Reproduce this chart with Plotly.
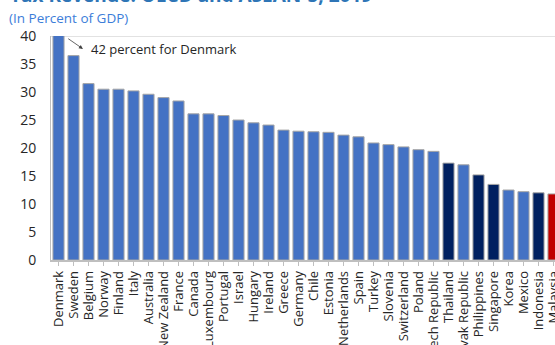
import plotly.graph_objects as go

countries = ["Denmark", "Sweden", "Belgium", "Norway", "Finland", "Italy", "Australia",
             "New Zealand", "France", "Canada", "Luxembourg", "Portugal", "Israel", "Hungary",
             "Ireland", "Greece", "Germany", "Chile", "Estonia", "Netherlands", "Spain", "Turkey",
             "Slovenia", "Switzerland", "Poland", "Czech Republic", "Thailand", "Slovak Republic",
             "Philippines", "Singapore", "Korea", "Mexico", "Indonesia", "Malaysia"]
values = [42.0, 36.5, 31.5, 30.5, 30.5, 30.2, 29.6, 29.0, 28.4, 26.1, 26.1, 25.8, 25.0, 24.5,
          24.1, 23.2, 23.0, 22.9, 22.8, 22.3, 22.0, 20.9, 20.6, 20.2, 19.7, 19.4, 17.3, 17.0,
          15.2, 13.5, 12.5, 12.2, 12.0, 11.8]
groups = ["OECD"] * 26 + ["ASEAN", "OECD", "ASEAN", "ASEAN", "OECD", "OECD", "ASEAN", "Malaysia"]
group_colors = {"OECD": "#4472C4", "ASEAN": "#002060", "Malaysia": "#C00000"}
y_ticks = [0, 5, 10, 15, 20, 25, 30, 35, 40]

title_text = "<b>Tax Revenue: OECD and ASEAN-5, 2019</b>"
subtitle_text = "(In Percent of GDP)"
note_text = "42 percent for Denmark"

FONT = "Open Sans"

fig = go.Figure()
fig.add_trace(go.Bar(
    x=list(range(len(countries))), y=values,
    marker=dict(color=[group_colors[g] for g in groups],
                line=dict(color="#A6A6A6", width=1)),
    width=0.74,
    showlegend=False,
))

fig.update_layout(
    width=555, height=345,
    margin=dict(l=51, r=0, t=36, b=85),
    plot_bgcolor="white", paper_bgcolor="white",
    font=dict(family=FONT, size=13, color="#262626"),
    xaxis=dict(
        range=[-0.5, 33.1], automargin=False,
        tickmode="array", tickvals=list(range(len(countries))), ticktext=countries,
        tickangle=-90, tickfont=dict(size=13, color="#262626"),
        ticklabeloverflow="allow",
        showline=True, linecolor="#BFBFBF", linewidth=1.5,
        ticks="outside", ticklen=4, tickcolor="#BFBFBF",
        showgrid=False, zeroline=False,
    ),
    yaxis=dict(
        range=[0, 40], tickvals=y_ticks, automargin=False,
        tickfont=dict(size=14, color="#262626"),
        showline=True, linecolor="#BFBFBF", linewidth=1,
        showgrid=False, zeroline=False,
        ticklabelstandoff=11,
    ),
    shapes=[dict(type="line", xref="paper", yref="y", x0=0, x1=1, y0=40, y1=40,
                 line=dict(color="#D9D9D9", width=1.5), layer="below")],
    annotations=[
        dict(text=title_text, xref="paper", yref="paper", x=-0.085, y=1.116,
             xanchor="left", yanchor="bottom", showarrow=False,
             font=dict(size=19, color="#2E75B6", family=FONT)),
        dict(text=subtitle_text, xref="paper", yref="paper", x=-0.087, y=1.080,
             xanchor="left", yanchor="middle", showarrow=False,
             font=dict(size=13.5, color="#3C7DD9", family=FONT)),
        dict(text=note_text, x=2.05, y=37.7, xref="x", yref="y",
             xanchor="left", yanchor="middle", showarrow=False,
             font=dict(size=13, color="#262626", family=FONT)),
        dict(text="", x=1.63, y=37.7, xref="x", yref="y",
             ax=0.55, ay=39.7, axref="x", ayref="y",
             showarrow=True, arrowhead=2, arrowsize=1, arrowwidth=0.8,
             arrowcolor="#404040"),
    ],
)

fig.write_html("out.html")
